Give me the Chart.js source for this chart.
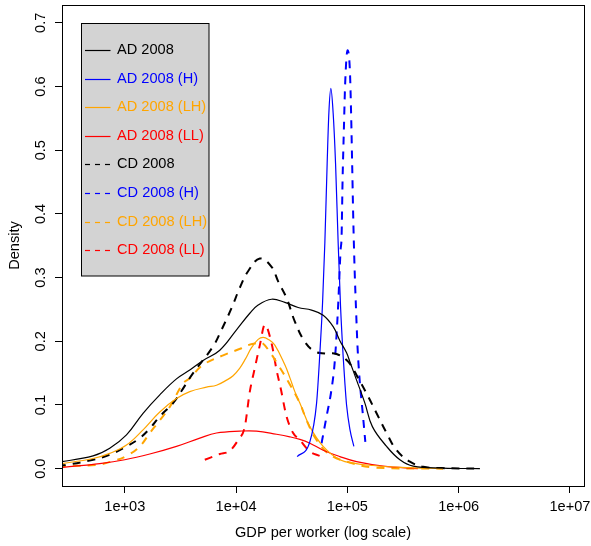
<!DOCTYPE html>
<html>
<head>
<meta charset="utf-8">
<script src="https://cdn.jsdelivr.net/npm/chart.js@4.4.1/dist/chart.umd.min.js"></script>
<style>
  html, body { margin: 0; padding: 0; background: #fff; }
</style>
</head>
<body>
<canvas id="densityChart" width="591" height="546"></canvas>
<script>
// Density curves: [GDP per worker, density]
const ad2008 = [
  [250, 0.010], [519, 0.020], [733, 0.032], [1036, 0.053], [1460, 0.087], [2064, 0.116],
  [2915, 0.141], [3839, 0.155], [5056, 0.170], [7144, 0.186], [10093, 0.218], [13293, 0.244],
  [15788, 0.257], [20834, 0.266], [27430, 0.261], [36130, 0.253], [47670, 0.249], [60600, 0.241],
  [74540, 0.223], [85620, 0.201], [98350, 0.182], [105300, 0.168], [121000, 0.139], [143700, 0.103],
  [167800, 0.066], [225100, 0.035], [296500, 0.014], [390300, 0.004], [721900, 0.001], [1552000, 0.000],
];
const ad2008H = [
  [35400, 0.019], [46000, 0.042], [52900, 0.103], [56600, 0.181], [59850, 0.260], [62800, 0.356],
  [65830, 0.479], [68180, 0.558], [71080, 0.597], [74540, 0.558], [78330, 0.479], [82670, 0.354],
  [86880, 0.254], [91680, 0.176], [94960, 0.135], [98350, 0.100], [105300, 0.062], [114400, 0.035],
];
const ad2008LH = [
  [250, 0.007], [519, 0.016], [733, 0.024], [1036, 0.037], [1460, 0.061], [2064, 0.089],
  [2915, 0.110], [3839, 0.121], [5425, 0.128], [6671, 0.131], [8208, 0.139], [9408, 0.146],
  [10806, 0.158], [12110, 0.172], [13768, 0.190], [15788, 0.203], [17505, 0.206], [19500, 0.203],
  [22300, 0.194], [27430, 0.163], [30420, 0.143], [33740, 0.121], [37410, 0.103], [46020, 0.066],
  [60600, 0.035], [85620, 0.014], [120000, 0.008], [170600, 0.005], [300000, 0.002], [721900, 0.000],
];
const ad2008LL = [
  [250, 0.001], [279, 0.002], [596, 0.008], [1000, 0.014], [1678, 0.023], [2915, 0.035],
  [4723, 0.048], [6671, 0.056], [10806, 0.059], [15273, 0.059], [23103, 0.054], [30420, 0.050],
  [37410, 0.046], [46020, 0.040], [60600, 0.029], [85620, 0.019], [121000, 0.011], [209800, 0.004],
  [430300, 0.000],
];
const cd2008 = [
  [250, 0.005], [299, 0.006], [519, 0.014], [733, 0.022], [1036, 0.035], [1364, 0.048],
  [1678, 0.063], [2064, 0.082], [2718, 0.103], [3234, 0.122], [4111, 0.150], [6219, 0.192],
  [7400, 0.218], [9100, 0.252], [10806, 0.284], [12830, 0.310], [16353, 0.330], [20834, 0.317],
  [23880, 0.294], [28412, 0.268], [33740, 0.231], [41500, 0.199], [51050, 0.184], [62800, 0.181],
  [79970, 0.180], [101700, 0.168], [125100, 0.142], [153900, 0.113], [183000, 0.087], [225100, 0.056],
  [276900, 0.029], [364600, 0.011], [480200, 0.003], [700000, 0.001], [1552000, 0.000],
];
const cd2008H = [
  [58630, 0.040], [65010, 0.082], [72110, 0.125], [77200, 0.170], [82670, 0.257], [86880, 0.343],
  [88700, 0.364], [90560, 0.453], [93020, 0.532], [95550, 0.605], [100400, 0.657], [105300, 0.626],
  [108200, 0.553], [110400, 0.479], [112700, 0.401], [114400, 0.354], [116800, 0.300], [119300, 0.256],
  [123500, 0.190], [129500, 0.135], [136950, 0.090], [145000, 0.042],
];
const cd2008LH = [
  [250, 0.004], [557, 0.006], [785, 0.012], [1036, 0.020], [1364, 0.035], [1678, 0.056],
  [2064, 0.076], [2538, 0.097], [3342, 0.134], [3839, 0.142], [5056, 0.163], [7650, 0.178],
  [11190, 0.189], [12830, 0.194], [15273, 0.197], [17040, 0.198], [20113, 0.183], [23880, 0.163],
  [29380, 0.137], [37410, 0.103], [42990, 0.076], [52860, 0.045], [69610, 0.022], [98350, 0.011],
  [170600, 0.002], [721900, 0.000],
];
const cd2008LL = [
  [5237, 0.014], [7144, 0.023], [8788, 0.028], [10433, 0.045], [11985, 0.066], [13290, 0.121],
  [14740, 0.158], [16353, 0.194], [18132, 0.226], [20834, 0.197], [23103, 0.155], [25250, 0.125],
  [28412, 0.082], [32570, 0.056], [37410, 0.045], [46020, 0.027], [56600, 0.020],
];

const seriesNames = [
  "AD 2008", "AD 2008 (H)", "AD 2008 (LH)", "AD 2008 (LL)",
  "CD 2008", "CD 2008 (H)", "CD 2008 (LH)", "CD 2008 (LL)",
];
const curves = [ad2008, ad2008H, ad2008LH, ad2008LL, cd2008, cd2008H, cd2008LH, cd2008LL];

// Axis ticks
const xTicks = [1e3, 1e4, 1e5, 1e6, 1e7];
const yTicks = [0, 0.1, 0.2, 0.3, 0.4, 0.5, 0.6, 0.7];

// Styles
const lineColors = ["#000000", "#0000ff", "#ffa500", "#ff0000", "#000000", "#0000ff", "#ffa500", "#ff0000"];
const sharpPeak = [false, true, false, false, false, true, false, true]; // narrow peaks: no overshoot
const FONT = "'Liberation Sans', Arial, Helvetica, sans-serif";
const FONT_SIZE = 14.6;

// Draws the box, rotated y tick labels and the grey legend like R does
const rStylePlugin = {
  id: "rStyle",
  afterDraw(chart) {
    const ctx = chart.ctx;
    const area = chart.chartArea;
    ctx.save();

    // plot frame
    ctx.strokeStyle = "#000";
    ctx.lineWidth = 1;
    ctx.setLineDash([]);
    ctx.strokeRect(Math.round(area.left) + 0.5, Math.round(area.top) + 0.5,
      Math.round(area.right - area.left), Math.round(area.bottom - area.top));

    // y tick labels, rotated
    const yScale = chart.scales.y;
    ctx.fillStyle = "#000";
    ctx.font = FONT_SIZE + "px " + FONT;
    ctx.textAlign = "center";
    ctx.textBaseline = "middle";
    yTicks.forEach((v) => {
      const py = yScale.getPixelForValue(v);
      ctx.save();
      ctx.translate(41, py);
      ctx.rotate(-Math.PI / 2);
      ctx.fillText(v.toFixed(1), 0, 0);
      ctx.restore();
    });

    // legend
    const box = { x: 81.5, y: 23.5, w: 127.5, h: 252.5 };
    ctx.fillStyle = "#d3d3d3";
    ctx.fillRect(box.x, box.y, box.w, box.h);
    ctx.strokeStyle = "#000";
    ctx.strokeRect(box.x, box.y, box.w, box.h);

    ctx.textAlign = "left";
    chart.data.datasets.forEach((ds, i) => {
      const y = 50 + i * 28.6;
      ctx.strokeStyle = ds.borderColor;
      ctx.lineWidth = 1.2;
      ctx.setLineDash(ds.borderDash.length ? [5, 5] : []);
      ctx.beginPath();
      ctx.moveTo(85, Math.round(y) + 0.5);
      ctx.lineTo(110.5, Math.round(y) + 0.5);
      ctx.stroke();
      ctx.setLineDash([]);
      ctx.fillStyle = ds.borderColor;
      ctx.fillText(ds.label, 117, y);
    });

    ctx.restore();
  },
};

const ctx = document.getElementById("densityChart").getContext("2d");

new Chart(ctx, {
  type: "line",
  data: {
    datasets: curves.map((pts, i) => {
      const dashed = i >= 4;
      return {
        label: seriesNames[i],
        data: pts.map((p) => ({ x: p[0], y: p[1] })),
        borderColor: lineColors[i],
        backgroundColor: lineColors[i],
        borderWidth: dashed ? 2 : 1.2,
        borderDash: dashed ? [8, 7] : [],
        pointRadius: 0,
        pointHoverRadius: 0,
        tension: 0.4,
        cubicInterpolationMode: sharpPeak[i] ? "monotone" : "default",
        fill: false,
      };
    }),
  },
  options: {
    responsive: false,
    animation: false,
    devicePixelRatio: 1,
    layout: { padding: { top: 5, right: 7, bottom: 0, left: 0 } },
    plugins: {
      legend: { display: false },
      tooltip: { enabled: false },
    },
    scales: {
      x: {
        type: "logarithmic",
        min: 273,
        max: 13366000,
        afterBuildTicks: (scale) => {
          scale.ticks = xTicks.map((v) => ({ value: v }));
        },
        afterFit: (scale) => {
          scale.height = 60;
          scale.paddingLeft = 0;
          scale.paddingRight = 0;
        },
        ticks: {
          autoSkip: false,
          maxRotation: 0,
          padding: 5,
          color: "#000",
          font: { family: FONT, size: FONT_SIZE },
          callback: (v) => "1e+" + String(Math.round(Math.log10(v))).padStart(2, "0"),
        },
        grid: { drawOnChartArea: false, color: "#000", tickLength: 7 },
        border: { display: false },
        title: {
          display: true,
          text: "GDP per worker (log scale)",
          color: "#000",
          font: { family: FONT, size: FONT_SIZE },
          padding: { top: 0, bottom: 4 },
        },
      },
      y: {
        type: "linear",
        min: -0.0272,
        max: 0.728,
        afterBuildTicks: (scale) => {
          scale.ticks = yTicks.map((v) => ({ value: v }));
        },
        afterFit: (scale) => {
          scale.width = 62;
          scale.paddingTop = 0;
          scale.paddingBottom = 0;
        },
        ticks: { display: false },
        grid: { drawOnChartArea: false, color: "#000", tickLength: 7 },
        border: { display: false },
        title: {
          display: true,
          text: "Density",
          color: "#000",
          font: { family: FONT, size: FONT_SIZE },
          padding: { top: 6, bottom: 0 },
        },
      },
    },
  },
  plugins: [rStylePlugin],
});
</script>
</body>
</html>
